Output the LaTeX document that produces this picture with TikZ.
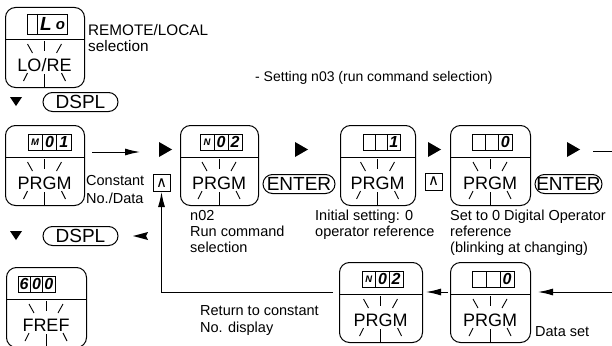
\documentclass[tikz,border=0pt]{standalone}
\usepackage{fontspec}
\setmainfont{Liberation Sans}
\newfontfamily\symfont{DejaVu Sans}
\usetikzlibrary{arrows.meta,calc}
\tikzset{
  opb/.style={draw, line width=1pt, rounded corners=10pt, inner sep=0pt},
  tick/.style={line width=0.9pt},
  disp/.style={line width=0.9pt},
  lbl/.style={font=\fontsize{18}{18}\selectfont, inner sep=0pt, anchor=base},
  dig/.style={font=\fontsize{16}{16}\selectfont\bfseries\itshape, inner sep=0pt},
  sml/.style={font=\fontsize{9.5}{9.5}\selectfont\bfseries\itshape, inner sep=0pt},
  ann/.style={font=\fontsize{14.5}{14.5}\selectfont, inner sep=0pt, anchor=base west},
  keypill/.style={draw, line width=1pt, rounded corners=9.5pt, minimum height=19pt, inner sep=0pt, font=\fontsize{19}{19}\selectfont},
  carbox/.style={draw, line width=1pt, minimum width=17pt, minimum height=17pt, inner sep=0pt, font=\symfont\fontsize{15}{15}\selectfont},
  tri/.style={fill=black},
  arr/.style={line width=1pt, -{Latex[length=15pt,width=7pt]}},
  ln/.style={line width=1pt}
}
\def\dtop{9}\def\dbot{25}
% #1 name, #2 left, #3 top, #4 width, #5 label, #6 display dx, #7 display width, #8 divider fractions
\newcommand{\opbox}[8]{%
\begin{scope}[shift={(#2,#3)}]
\node[opb, minimum width=#4pt, minimum height=80pt, anchor=north west] (#1) at (0,0) {};
\draw[tick] (0,32) -- (#4,32);
\draw[disp] (#6,\dtop) rectangle ({#6+#7},\dbot);
\foreach \f in {#8} {\draw[disp] ({#6+\f*#7},\dtop) -- ({#6+\f*#7},\dbot);}
\coordinate (#1-c1) at ({#6+#7/6},{(\dtop+\dbot)/2});
\coordinate (#1-c2) at ({#6+#7/2},{(\dtop+\dbot)/2});
\coordinate (#1-c3) at ({#6+5*#7/6},{(\dtop+\dbot)/2});
\draw[tick] ({#4/2},34) -- ({#4/2},44);
\draw[tick] ({#4/2-17},37) -- ({#4/2-12},46);
\draw[tick] ({#4/2+17},37) -- ({#4/2+12},46);
\node[lbl] (#1-l) at ({#4/2},64.5) {#5};
\draw[tick] ({#4/2},67) -- ({#4/2},80);
\draw[tick] ({#4/2-21},74) -- ({#4/2-17},66);
\draw[tick] ({#4/2+21},74) -- ({#4/2+17},66);
\end{scope}}
\begin{document}
\begin{tikzpicture}[x=1pt,y=-1pt]
\useasboundingbox (0,0) rectangle (612,345);
\clip (0,0) rectangle (612,345);
% ---- boxes ----
\def\dtop{7}\def\dbot{27}
\opbox{b1}{5}{7}{79}{LO/RE}{22}{40}{0.27}
\def\dtop{9}\def\dbot{25}
\node[font=\fontsize{19}{19}\selectfont\bfseries\itshape, inner sep=0pt] at ($(b1-c2)+(-1,0)$) {L};
\node[font=\fontsize{15}{15}\selectfont\bfseries\itshape, inner sep=0pt] at ($(b1-c3)+(0,2)$) {o};
\opbox{b2}{5}{125}{79}{PRGM}{23}{43}{1/3,2/3}
\node[sml] at (b2-c1) {M};
\node[dig] at (b2-c2) {0};
\node[dig] at (b2-c3) {1};
\opbox{b3}{180}{125}{78}{PRGM}{20}{42}{1/3,2/3}
\node[sml] at (b3-c1) {N};
\node[dig] at (b3-c2) {0};
\node[dig] at (b3-c3) {2};
\opbox{b4}{340}{125}{75}{PRGM}{23}{37}{1/3,2/3}
\node[dig] at (b4-c3) {1};
\opbox{b5}{450}{125}{80}{PRGM}{22}{40}{1/3,2/3}
\node[dig] at (b5-c3) {0};
\opbox{b6}{339}{262}{83}{PRGM}{23}{41}{1/3,2/3}
\node[sml] at (b6-c1) {N};
\node[dig] at (b6-c2) {0};
\node[dig] at (b6-c3) {2};
\opbox{b7}{450}{262}{80}{PRGM}{22}{42}{1/3,2/3}
\node[dig] at (b7-c3) {0};
\opbox{b8}{6}{267}{80}{FREF}{12}{37}{1/3,2/3}
\node[dig] at (b8-c1) {6};
\node[dig] at (b8-c2) {0};
\node[dig] at (b8-c3) {0};
% ---- keys ----
\node[keypill, minimum width=75pt] (dspl1) at (80.5,102) {DSPL};
\node[keypill, minimum width=75pt] (dspl2) at (80.5,236) {DSPL};
\node[keypill, minimum width=72pt] (enter1) at (299,184) {ENTER};
\node[keypill, minimum width=67pt] (enter2) at (568.5,184) {ENTER};
\node[carbox] (car1) at (161.5,183) {∧};
\node[carbox] (car2) at (433.5,181.5) {∧};
% ---- triangles ----
\fill[tri] (10,97) -- (22,97) -- (16,106) -- cycle;
\fill[tri] (10,231) -- (22,231) -- (16,240) -- cycle;
\fill[tri] (159,142) -- (159,157) -- (172,149.5) -- cycle;
\fill[tri] (295,142) -- (295,157) -- (308,149.5) -- cycle;
\fill[tri] (428,142) -- (428,157) -- (441,149.5) -- cycle;
\fill[tri] (567,142) -- (567,157) -- (580,149.5) -- cycle;
\fill[tri] (133,236) -- (148,232) -- (146,236) -- (148,240) -- cycle;
% ---- connectors ----
\coordinate (a1s) at (92,152);
\coordinate (a1e) at (140,152);
\draw[arr] (a1s) -- (a1e);
\coordinate (trs) at (593,151);
\coordinate (tre) at (612,151);
\draw[ln] (trs) -- (tre);
\coordinate (rin) at (612,292);
\draw[arr] (rin) -- ([xshift=7pt]b7.east |- rin);
\draw[arr] ([xshift=-2pt]b7.west |- rin) -- ([xshift=3pt]b6.east |- rin);
\coordinate (ret) at (333,292);
\draw[arr] (ret) -| (car1.south);
% ---- texts ----
\node[ann, font=\fontsize{15.3}{16}\selectfont] (t1) at (88,36) {REMOTE/LOCAL};
\node[ann, font=\fontsize{15.3}{16}\selectfont] (t2) at (88,52) {selection};
\node[ann, font=\fontsize{14}{14}\selectfont] (t3) at (255,81) {- Setting n03 (run command selection)};
\node[ann] (t4) at (86,185) {Constant};
\node[ann] (t5) at (86,203) {No./Data};
\node[ann] (t6) at (190,220) {n02};
\node[ann] (t7) at (190,236) {Run command};
\node[ann] (t8) at (190,252) {selection};
\node[ann] (t9) at (315,220) {Initial setting: 0};
\node[ann] (t10) at (315,236) {operator reference};
\node[ann] (t11) at (450,220) {Set to 0 Digital Operator};
\node[ann] (t12) at (450,236) {reference};
\node[ann] (t13) at (450,252) {(blinking at changing)};
\node[ann] (t14) at (200,315) {Return to constant};
\node[ann] (t15) at (200,332) {No. display};
\node[ann] (t16) at (535,336) {Data set};
\end{tikzpicture}
\end{document}
